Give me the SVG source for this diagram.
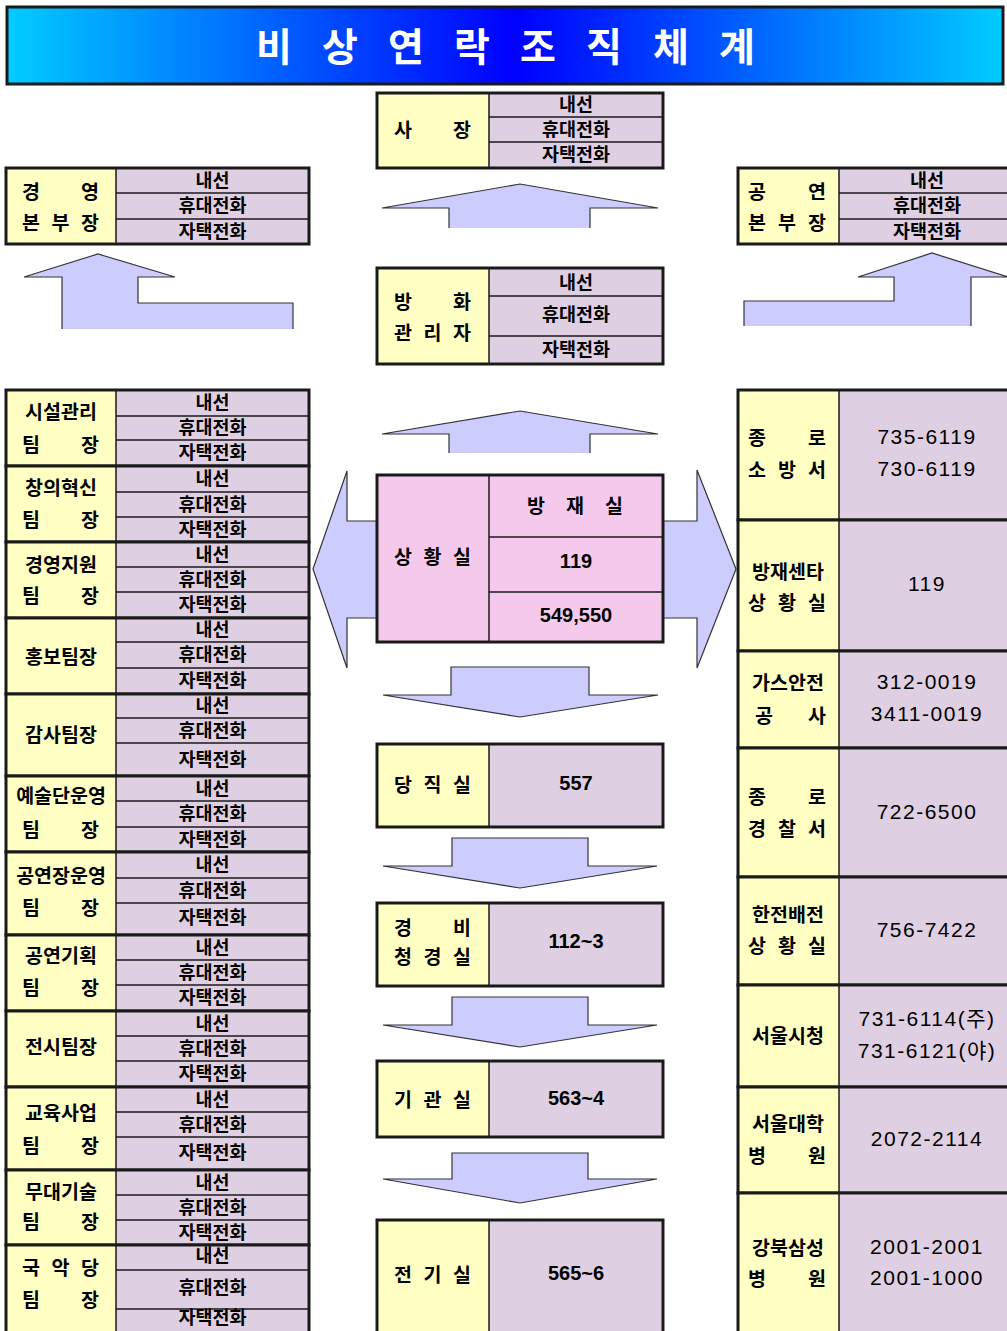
<svg xmlns="http://www.w3.org/2000/svg" width="1007" height="1331" viewBox="0 0 1007 1331">
<defs>
<linearGradient id="tg" x1="0" y1="0" x2="1" y2="0">
<stop offset="0" stop-color="#00ccff"/>
<stop offset="0.51" stop-color="#0000ff"/>
<stop offset="1" stop-color="#00ccff"/>
</linearGradient>
<style>
.y{fill:#ffffc4}
.p{fill:#dfcfe2}
.pk{fill:#f5c9ec}
.ob{fill:none;stroke:#1a1a1a;stroke-width:3}
.ln{fill:none;stroke:#1a1a1a;stroke-width:1.5}
.af{fill:#ccccff;stroke:none}
.ae{fill:none;stroke:#333;stroke-width:1.2}
.ad{fill:#ccccff;stroke:#333;stroke-width:1.2}
text{font-family:"Noto Sans CJK KR","Noto Sans CJK SC",sans-serif;dominant-baseline:central;fill:#000;transform:translateY(-2px)}
.lb{font-weight:bold;font-size:19.5px}
.c{font-weight:bold;font-size:18.5px;text-anchor:middle}
.m{text-anchor:middle}
.num{font-family:"Liberation Sans","Noto Sans CJK KR",sans-serif;font-size:21px;text-anchor:middle;letter-spacing:1.5px}
.cn{font-family:"Liberation Sans","Noto Sans CJK KR",sans-serif;font-size:20px;font-weight:bold;text-anchor:middle}
.tt{font-weight:bold;font-size:39px;fill:#fff;text-anchor:middle}
</style>
</defs>
<rect width="1007" height="1331" fill="#fff"/>

<g id="title">
<rect x="7" y="7" width="996" height="77" fill="url(#tg)" stroke="#1a1a1a" stroke-width="3"/>
<text class="tt" x="274 340 406 472 538 604 671 737" y="46">비상연락조직체계</text>
</g>

<g id="connectors">
<polygon class="af" points="449,228 449,208 382,208 520,184 658,208 590,208 590,228"/>
<path class="ae" d="M449,228V208H382L520,184L658,208H590V228"/>
<polygon class="af" points="62,329 62,277 24,277 98,254 175,277 138,277 138,303 293,303 293,329"/>
<path class="ae" d="M62,329V277H24L98,254L175,277H138V303H293V329"/>
<polygon class="af" points="744,326 744,301 894,301 894,277 858,277 932,253 1008,277 971,277 971,326"/>
<path class="ae" d="M744,326V301H894V277H858L932,253L1008,277H971V326"/>
<polygon class="af" points="449,453 449,434 382,434 520,411 658,434 590,434 590,453"/>
<path class="ae" d="M449,453V434H382L520,411L658,434H590V453"/>
<polygon class="af" points="313,569 347,471 347,521 697,521 697,470 736,569 697,668 697,618 347,618 347,668"/>
<path class="ae" d="M377,521H347V471L313,569L347,668V618H377"/>
<path class="ae" d="M663,521H697V470L736,569L697,668V618H663"/>
<polygon class="ad" points="383,695 451,695 451,667 589,667 589,695 658,695 520,717"/>
<polygon class="ad" points="383,866 452,866 452,838 588,838 588,866 657,866 520,888"/>
<polygon class="ad" points="383,1025 452,1025 452,997 588,997 588,1025 657,1025 520,1047"/>
<polygon class="ad" points="383,1179 452,1179 452,1153 588,1153 588,1179 657,1179 520,1203"/>
</g>

<g id="n-ceo">
<rect class="y" x="377" y="93" width="112" height="75"/>
<rect class="p" x="489" y="93" width="174" height="75"/>
<path class="ln" d="M489,93V168M489,117H663M489,142H663"/>
<rect class="ob" x="377" y="93" width="286" height="75"/>
<text class="lb" x="394 453" y="130">사장</text>
<text class="c" x="576" y="105">내선</text>
<text class="c" x="576" y="130">휴대전화</text>
<text class="c" x="576" y="155">자택전화</text>
</g>

<g id="n-fire-manager">
<rect class="y" x="377" y="268" width="112" height="96"/>
<rect class="p" x="489" y="268" width="174" height="96"/>
<path class="ln" d="M489,268V364M489,296H663M489,336H663"/>
<rect class="ob" x="377" y="268" width="286" height="96"/>
<text class="lb" x="394 453" y="302">방화</text>
<text class="lb" x="394 423.5 453" y="333">관리자</text>
<text class="c" x="576" y="283">내선</text>
<text class="c" x="576" y="315">휴대전화</text>
<text class="c" x="576" y="350">자택전화</text>
</g>

<g id="n-mgmt-hq">
<rect class="y" x="6" y="168" width="110" height="76"/>
<rect class="p" x="116" y="168" width="193" height="76"/>
<path class="ln" d="M116,168V244M116,193H309M116,219H309"/>
<rect class="ob" x="6" y="168" width="303" height="76"/>
<text class="lb" x="22 81" y="192">경영</text>
<text class="lb" x="22 51.5 81" y="223">본부장</text>
<text class="c" x="212.5" y="181">내선</text>
<text class="c" x="212.5" y="206">휴대전화</text>
<text class="c" x="212.5" y="232">자택전화</text>
</g>

<g id="n-perf-hq">
<rect class="y" x="738" y="168" width="101" height="76"/>
<rect class="p" x="839" y="168" width="175" height="76"/>
<path class="ln" d="M839,168V244M839,193H1010M839,219H1010"/>
<rect class="ob" x="738" y="168" width="276" height="76"/>
<text class="lb" x="748 808" y="192">공연</text>
<text class="lb" x="748 778 808" y="223">본부장</text>
<text class="c" x="927" y="181">내선</text>
<text class="c" x="927" y="206">휴대전화</text>
<text class="c" x="927" y="232">자택전화</text>
</g>

<g id="n-facility">
<rect class="y" x="6" y="390" width="110" height="76"/>
<rect class="p" x="116" y="390" width="193" height="76"/>
<path class="ln" d="M116,390V466M116,416H309M116,440H309"/>
<rect class="ob" x="6" y="390" width="303" height="76"/>
<text class="lb m" x="61" y="412">시설관리</text>
<text class="lb" x="22 81" y="445">팀장</text>
<text class="c" x="212.5" y="403">내선</text>
<text class="c" x="212.5" y="428">휴대전화</text>
<text class="c" x="212.5" y="453">자택전화</text>
</g>

<g id="n-innovation">
<rect class="y" x="6" y="466" width="110" height="76"/>
<rect class="p" x="116" y="466" width="193" height="76"/>
<path class="ln" d="M116,466V542M116,492H309M116,517H309"/>
<rect class="ob" x="6" y="466" width="303" height="76"/>
<text class="lb m" x="61" y="488">창의혁신</text>
<text class="lb" x="22 81" y="520">팀장</text>
<text class="c" x="212.5" y="479">내선</text>
<text class="c" x="212.5" y="504.5">휴대전화</text>
<text class="c" x="212.5" y="529.5">자택전화</text>
</g>

<g id="n-support">
<rect class="y" x="6" y="542" width="110" height="76"/>
<rect class="p" x="116" y="542" width="193" height="76"/>
<path class="ln" d="M116,542V618M116,567H309M116,592H309"/>
<rect class="ob" x="6" y="542" width="303" height="76"/>
<text class="lb m" x="61" y="565">경영지원</text>
<text class="lb" x="22 81" y="596">팀장</text>
<text class="c" x="212.5" y="554.5">내선</text>
<text class="c" x="212.5" y="579.5">휴대전화</text>
<text class="c" x="212.5" y="605">자택전화</text>
</g>

<g id="n-pr">
<rect class="y" x="6" y="618" width="110" height="76"/>
<rect class="p" x="116" y="618" width="193" height="76"/>
<path class="ln" d="M116,618V694M116,642H309M116,668H309"/>
<rect class="ob" x="6" y="618" width="303" height="76"/>
<text class="lb m" x="61" y="657">홍보팀장</text>
<text class="c" x="212.5" y="630">내선</text>
<text class="c" x="212.5" y="655">휴대전화</text>
<text class="c" x="212.5" y="681">자택전화</text>
</g>

<g id="n-audit">
<rect class="y" x="6" y="694" width="110" height="82"/>
<rect class="p" x="116" y="694" width="193" height="82"/>
<path class="ln" d="M116,694V776M116,718H309M116,743H309"/>
<rect class="ob" x="6" y="694" width="303" height="82"/>
<text class="lb m" x="61" y="735">감사팀장</text>
<text class="c" x="212.5" y="706">내선</text>
<text class="c" x="212.5" y="730.5">휴대전화</text>
<text class="c" x="212.5" y="759.5">자택전화</text>
</g>

<g id="n-arts">
<rect class="y" x="6" y="776" width="110" height="76"/>
<rect class="p" x="116" y="776" width="193" height="76"/>
<path class="ln" d="M116,776V852M116,801H309M116,827H309"/>
<rect class="ob" x="6" y="776" width="303" height="76"/>
<text class="lb m" x="61" y="796">예술단운영</text>
<text class="lb" x="22 81" y="830">팀장</text>
<text class="c" x="212.5" y="788.5">내선</text>
<text class="c" x="212.5" y="814">휴대전화</text>
<text class="c" x="212.5" y="839.5">자택전화</text>
</g>

<g id="n-venue">
<rect class="y" x="6" y="852" width="110" height="83"/>
<rect class="p" x="116" y="852" width="193" height="83"/>
<path class="ln" d="M116,852V935M116,878H309M116,903H309"/>
<rect class="ob" x="6" y="852" width="303" height="83"/>
<text class="lb m" x="61" y="876">공연장운영</text>
<text class="lb" x="22 81" y="908">팀장</text>
<text class="c" x="212.5" y="865">내선</text>
<text class="c" x="212.5" y="890.5">휴대전화</text>
<text class="c" x="212.5" y="918">자택전화</text>
</g>

<g id="n-planning">
<rect class="y" x="6" y="935" width="110" height="76"/>
<rect class="p" x="116" y="935" width="193" height="76"/>
<path class="ln" d="M116,935V1011M116,960H309M116,985H309"/>
<rect class="ob" x="6" y="935" width="303" height="76"/>
<text class="lb m" x="61" y="956">공연기획</text>
<text class="lb" x="22 81" y="988">팀장</text>
<text class="c" x="212.5" y="947.5">내선</text>
<text class="c" x="212.5" y="972.5">휴대전화</text>
<text class="c" x="212.5" y="998">자택전화</text>
</g>

<g id="n-exhibit">
<rect class="y" x="6" y="1011" width="110" height="76"/>
<rect class="p" x="116" y="1011" width="193" height="76"/>
<path class="ln" d="M116,1011V1087M116,1036H309M116,1061H309"/>
<rect class="ob" x="6" y="1011" width="303" height="76"/>
<text class="lb m" x="61" y="1047">전시팀장</text>
<text class="c" x="212.5" y="1023.5">내선</text>
<text class="c" x="212.5" y="1048.5">휴대전화</text>
<text class="c" x="212.5" y="1074">자택전화</text>
</g>

<g id="n-education">
<rect class="y" x="6" y="1087" width="110" height="83"/>
<rect class="p" x="116" y="1087" width="193" height="83"/>
<path class="ln" d="M116,1087V1170M116,1112H309M116,1137H309"/>
<rect class="ob" x="6" y="1087" width="303" height="83"/>
<text class="lb m" x="61" y="1113">교육사업</text>
<text class="lb" x="22 81" y="1146">팀장</text>
<text class="c" x="212.5" y="1099.5">내선</text>
<text class="c" x="212.5" y="1124.5">휴대전화</text>
<text class="c" x="212.5" y="1153">자택전화</text>
</g>

<g id="n-stage">
<rect class="y" x="6" y="1170" width="110" height="75"/>
<rect class="p" x="116" y="1170" width="193" height="75"/>
<path class="ln" d="M116,1170V1245M116,1195H309M116,1220H309"/>
<rect class="ob" x="6" y="1170" width="303" height="75"/>
<text class="lb m" x="61" y="1192">무대기술</text>
<text class="lb" x="22 81" y="1222">팀장</text>
<text class="c" x="212.5" y="1182.5">내선</text>
<text class="c" x="212.5" y="1207.5">휴대전화</text>
<text class="c" x="212.5" y="1232.5">자택전화</text>
</g>

<g id="n-gugak">
<rect class="y" x="6" y="1245" width="110" height="100"/>
<rect class="p" x="116" y="1245" width="193" height="100"/>
<path class="ln" d="M116,1245V1345M116,1270H309M116,1309H309"/>
<rect class="ob" x="6" y="1245" width="303" height="100"/>
<text class="lb" x="22 51.5 81" y="1268">국악당</text>
<text class="lb" x="22 81" y="1300">팀장</text>
<text class="c" x="212.5" y="1256">내선</text>
<text class="c" x="212.5" y="1288">휴대전화</text>
<text class="c" x="212.5" y="1318">자택전화</text>
</g>

<g id="n-control-room">
<rect class="pk" x="377" y="475" width="286" height="167"/>
<path class="ln" d="M489,475V642M489,537H663M489,592H663"/>
<rect class="ob" x="377" y="475" width="286" height="167"/>
<text class="lb" x="394 423.5 453" y="557">상황실</text>
<text class="lb" x="527 566 605" y="506">방재실</text>
<text class="cn" x="576" y="563">119</text>
<text class="cn" x="576" y="617">549,550</text>
</g>

<g id="n-duty">
<rect class="y" x="377" y="744" width="112" height="83"/>
<rect class="p" x="489" y="744" width="174" height="83"/>
<path class="ln" d="M489,744V827"/>
<rect class="ob" x="377" y="744" width="286" height="83"/>
<text class="lb" x="394 423.5 453" y="785">당직실</text>
<text class="cn" x="576" y="785">557</text>
</g>

<g id="n-security">
<rect class="y" x="377" y="903" width="112" height="83"/>
<rect class="p" x="489" y="903" width="174" height="83"/>
<path class="ln" d="M489,903V986"/>
<rect class="ob" x="377" y="903" width="286" height="83"/>
<text class="lb" x="394 453" y="928">경비</text>
<text class="lb" x="394 423.5 453" y="957">청경실</text>
<text class="cn" x="576" y="943">112~3</text>
</g>

<g id="n-machine">
<rect class="y" x="377" y="1061" width="112" height="76"/>
<rect class="p" x="489" y="1061" width="174" height="76"/>
<path class="ln" d="M489,1061V1137"/>
<rect class="ob" x="377" y="1061" width="286" height="76"/>
<text class="lb" x="394 423.5 453" y="1100">기관실</text>
<text class="cn" x="576" y="1100">563~4</text>
</g>

<g id="n-electric">
<rect class="y" x="377" y="1220" width="112" height="125"/>
<rect class="p" x="489" y="1220" width="174" height="125"/>
<path class="ln" d="M489,1220V1345"/>
<rect class="ob" x="377" y="1220" width="286" height="125"/>
<text class="lb" x="394 423.5 453" y="1275">전기실</text>
<text class="cn" x="576" y="1275">565~6</text>
</g>

<g id="n-fire-station">
<rect class="y" x="738" y="390" width="101" height="130"/>
<rect class="p" x="839" y="390" width="175" height="130"/>
<path class="ln" d="M839,390V520"/>
<rect class="ob" x="738" y="390" width="276" height="130"/>
<text class="lb" x="748 808" y="438">종로</text>
<text class="lb" x="748 778 808" y="470">소방서</text>
<text class="num" x="927" y="438">735-6119</text>
<text class="num" x="927" y="470">730-6119</text>
</g>

<g id="n-disaster-center">
<rect class="y" x="738" y="520" width="101" height="131"/>
<rect class="p" x="839" y="520" width="175" height="131"/>
<path class="ln" d="M839,520V651"/>
<rect class="ob" x="738" y="520" width="276" height="131"/>
<text class="lb m" x="788" y="572">방재센타</text>
<text class="lb" x="748 778 808" y="603">상황실</text>
<text class="num" x="927" y="585">119</text>
</g>

<g id="n-gas">
<rect class="y" x="738" y="651" width="101" height="97"/>
<rect class="p" x="839" y="651" width="175" height="97"/>
<path class="ln" d="M839,651V748"/>
<rect class="ob" x="738" y="651" width="276" height="97"/>
<text class="lb m" x="788" y="683">가스안전</text>
<text class="lb" x="755 808" y="716">공사</text>
<text class="num" x="927" y="683">312-0019</text>
<text class="num" x="927" y="715">3411-0019</text>
</g>

<g id="n-police">
<rect class="y" x="738" y="748" width="101" height="129"/>
<rect class="p" x="839" y="748" width="175" height="129"/>
<path class="ln" d="M839,748V877"/>
<rect class="ob" x="738" y="748" width="276" height="129"/>
<text class="lb" x="748 808" y="797">종로</text>
<text class="lb" x="748 778 808" y="829">경찰서</text>
<text class="num" x="927" y="813">722-6500</text>
</g>

<g id="n-kepco">
<rect class="y" x="738" y="877" width="101" height="108"/>
<rect class="p" x="839" y="877" width="175" height="108"/>
<path class="ln" d="M839,877V985"/>
<rect class="ob" x="738" y="877" width="276" height="108"/>
<text class="lb m" x="788" y="915">한전배전</text>
<text class="lb" x="748 778 808" y="946">상황실</text>
<text class="num" x="927" y="931">756-7422</text>
</g>

<g id="n-city-hall">
<rect class="y" x="738" y="985" width="101" height="102"/>
<rect class="p" x="839" y="985" width="175" height="102"/>
<path class="ln" d="M839,985V1087"/>
<rect class="ob" x="738" y="985" width="276" height="102"/>
<text class="lb m" x="788" y="1036">서울시청</text>
<text class="num" x="927" y="1020">731-6114(주)</text>
<text class="num" x="927" y="1052">731-6121(야)</text>
</g>

<g id="n-snu-hospital">
<rect class="y" x="738" y="1087" width="101" height="106"/>
<rect class="p" x="839" y="1087" width="175" height="106"/>
<path class="ln" d="M839,1087V1193"/>
<rect class="ob" x="738" y="1087" width="276" height="106"/>
<text class="lb m" x="788" y="1124">서울대학</text>
<text class="lb" x="748 808" y="1156">병원</text>
<text class="num" x="927" y="1140">2072-2114</text>
</g>

<g id="n-kbsmc">
<rect class="y" x="738" y="1193" width="101" height="150"/>
<rect class="p" x="839" y="1193" width="175" height="150"/>
<path class="ln" d="M839,1193V1343"/>
<rect class="ob" x="738" y="1193" width="276" height="150"/>
<text class="lb m" x="788" y="1248">강북삼성</text>
<text class="lb" x="748 808" y="1279">병원</text>
<text class="num" x="927" y="1248">2001-2001</text>
<text class="num" x="927" y="1279">2001-1000</text>
</g>
</svg>
